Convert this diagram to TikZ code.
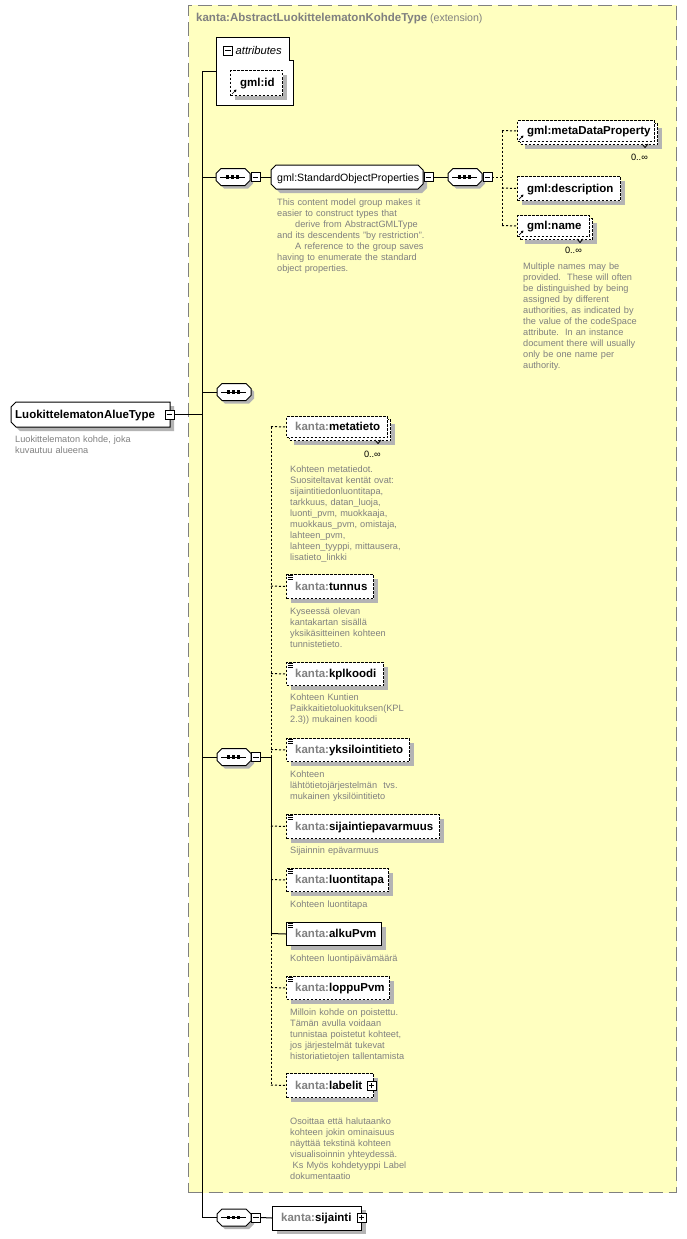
\documentclass[tikz,border=0pt]{standalone}
\usepackage{fontspec}
\setmainfont{Liberation Sans}
\usetikzlibrary{shadows,arrows.meta}
\definecolor{bgyellow}{HTML}{FFFFC0}
\definecolor{framegray}{HTML}{808080}
\definecolor{descgray}{HTML}{808080}
\definecolor{shadowgray}{HTML}{B4B4B4}
\newcommand{\nmfont}{\fontsize{11.5}{13}\selectfont\bfseries}
\newcommand{\rgfont}{\fontsize{10.6}{13}\selectfont}
\newcommand{\dsfont}{\fontsize{9.2}{11}\selectfont}
\newcommand{\kpfx}{\textcolor{descgray}{kanta:}}
\tikzset{
  conn/.style={draw=black, line width=1pt},
  dconn/.style={conn, dash pattern=on 2pt off 2pt},
  elbox/.style={draw=black, fill=white, line width=1pt, rectangle, inner sep=0pt, anchor=north west},
  optbox/.style={elbox, dash pattern=on 2.5pt off 1.5pt},
  shad/.style={drop shadow={shadow xshift=4pt, shadow yshift=-4pt, fill=shadowgray, opacity=1}},
  nmtext/.style={anchor=base west, inner sep=0pt, font=\nmfont, text=black},
  rgtext/.style={anchor=base west, inner sep=0pt, font=\rgfont, text=black},
  desc/.style={anchor=base west, inner sep=0pt, font=\dsfont, text=descgray, text width=220pt, align=left},
  mult/.style={anchor=base east, inner sep=0pt, font=\dsfont, text=black},
  pmbox/.style={draw=black, fill=white, line width=0.8pt, rectangle, inner sep=0pt, minimum size=9pt},
  refarrow/.style={line width=0.7pt, -{Triangle[length=2.4pt,width=2.6pt]}},
}
\newcommand{\octshape}[6]{\path[#1] ({#2+#6},{#3-#5/2}) -- ({#2+#4-#6},{#3-#5/2}) -- ({#2+#4},{#3-#5/2+#6}) -- ({#2+#4},{#3+#5/2-#6}) -- ({#2+#4-#6},{#3+#5/2}) -- ({#2+#6},{#3+#5/2}) -- ({#2},{#3+#5/2-#6}) -- ({#2},{#3-#5/2+#6}) -- cycle;}
\newcommand{\seqbox}[3]{%
  \octshape{fill=shadowgray}{#2+3}{#3+3}{34}{17}{5}
  \octshape{draw=black,fill=white,line width=1pt}{#2}{#3}{34}{17}{5}
  \draw[line width=1pt] ({#2+4},#3) -- ({#2+29},#3);
  \foreach \dx in {11.5,16.5,21.5} \fill ({#2+\dx-1.6},{#3-1.6}) rectangle ++(3.2,3.2);
  \node[inner sep=0pt, minimum width=34pt, minimum height=17pt, anchor=west] (#1) at (#2,#3) {};
}
\newcommand{\minusln}[1]{\draw[line width=0.8pt] ([xshift=2pt]#1.west) -- ([xshift=-2pt]#1.east);}
\newcommand{\plusln}[1]{\minusln{#1}\draw[line width=0.8pt] ([yshift=2pt]#1.south) -- ([yshift=-2pt]#1.north);}
\newcommand{\simpic}[1]{\foreach \dy in {1.5,3.5,5.5} \draw[line width=0.7pt] ([shift={(2,\dy)}]#1.north west) -- ([shift={(7,\dy)}]#1.north west);}
\newcommand{\refarr}[1]{\draw[refarrow] ([shift={(2,-2)}]#1.south west) -- ([shift={(6.5,-6.5)}]#1.south west);}
\newcommand{\notchv}[1]{\draw[line width=0.8pt] ([shift={(-16,-1)}]#1.south east) -- ([shift={(-13,2.5)}]#1.south east) -- ([shift={(-10,-1)}]#1.south east);}
\begin{document}
\begin{tikzpicture}[x=1pt,y=-1pt]
\useasboundingbox[fill=white] (0,0) rectangle (687,1239);
% extension frame
\node[draw=framegray, fill=bgyellow, line width=1pt, dash pattern=on 14pt off 6pt, anchor=north west, inner sep=0pt, minimum width=488pt, minimum height=1187pt] (ext) at (188,5) {};
\node[anchor=base west, inner sep=0pt, text=descgray] (exttitle) at (196,22) {{\nmfont kanta:AbstractLuokittelematonKohdeType} {\rgfont (extension)}};

% root element
\path[fill=shadowgray] (20,406) -- (174,406) -- (174,431) -- (20,431) -- (15,426) -- (15,411) -- cycle;
\path[draw=black, fill=white, line width=1pt] (16,402) -- (170,402) -- (170,427) -- (16,427) -- (11,422) -- (11,407) -- cycle;
\node[inner sep=0pt, minimum width=159pt, minimum height=25pt, anchor=north west] (root) at (11,402) {};
\node[nmtext] (rootT) at (15,418.5) {LuokittelematonAlueType};
\node[pmbox] (rootm) at (169.5,414.5) {};
\minusln{rootm}
\node[desc] (rootD) at (15,442.5) {Luokittelematon kohde, joka\\kuvautuu alueena};

% spine
\coordinate (sptop) at (202,72);
\coordinate (spbot) at (202,1217.5);
\coordinate (sproot) at (202,414.5);
\coordinate (attrL) at (216,72);
\draw[conn] (sptop) -- (spbot);
\draw[conn] (sptop) -- (attrL);
\draw[conn] (rootm.east) -- (sproot);

% attributes
\path[draw=black, fill=white, line width=1pt] (216,38) -- (289,38) -- (289,61) -- (293,61) -- (293,105) -- (216,105) -- cycle;
\node[pmbox] (attrm) at (228,50.5) {};
\minusln{attrm}
\node[anchor=base west, inner sep=0pt, font=\fontsize{11.2}{13}\selectfont\itshape] (attrT) at (235.5,54.5) {attributes};
\node[optbox, shad, minimum width=52pt, minimum height=25pt] (gmlid) at (230,70) {};
\node[nmtext] (gmlidT) at (240,86.5) {gml:id};
\refarr{gmlid}

% sequence 1 and group
\seqbox{seqa}{216}{177}
\node[pmbox] (seqam) at (255.5,177) {};
\minusln{seqam}
\coordinate (sps1) at (202,177);
\draw[conn] (sps1) -- (seqa.west);
\octshape{fill=shadowgray}{275}{181}{152}{24}{5}
\octshape{draw=black,fill=white,line width=1pt}{271}{177}{152}{24}{5}
\node[inner sep=0pt, minimum width=152pt, minimum height=24pt, anchor=west] (sop) at (271,177) {};
\node[rgtext] (sopT) at (277,181) {gml:StandardObjectProperties};
\node[pmbox] (sopm) at (428.5,177) {};
\minusln{sopm}
\draw[conn] (seqam.east) -- (sop.west);
\node[desc] (sopD) at (277,205.5) {This content model group makes it\\easier to construct types that\\\hspace*{18pt}derive from AbstractGMLType\\and its descendents "by restriction".\\\hspace*{18pt}A reference to the group saves\\having to enumerate the standard\\object properties.};

% sequence 2 and gml children
\seqbox{seqb}{448}{177}
\node[pmbox] (seqbm) at (487.5,177) {};
\minusln{seqbm}
\draw[conn] (sopm.east) -- (seqb.west);
\coordinate (bmid) at (502,177);
\coordinate (btop) at (502,130.5);
\coordinate (bdesc) at (502,188);
\coordinate (bbot) at (502,225.5);
\draw[dconn] (seqbm.east) -- (bmid);
\draw[dconn] (btop) -- (bbot);

\node[optbox, shad, minimum width=137pt, minimum height=21pt] (mdpB) at (520,123) {};
\node[optbox, minimum width=137pt, minimum height=21pt] (mdp) at (517,120) {};
\node[nmtext] (mdpT) at (527,134.5) {gml:metaDataProperty};
\refarr{mdp}
\notchv{mdpB}
\node[mult] (mdpM) at (648,160) {0..∞};
\draw[dconn] (btop) -- (mdp.west);

\node[optbox, shad, minimum width=103pt, minimum height=24pt] (gdesc) at (517,176) {};
\node[nmtext] (gdescT) at (527,192) {gml:description};
\refarr{gdesc}
\draw[dconn] (bdesc) -- (gdesc.west);

\node[optbox, shad, minimum width=72pt, minimum height=21pt] (gnameB) at (520,218) {};
\node[optbox, minimum width=72pt, minimum height=21pt] (gname) at (517,215) {};
\node[nmtext] (gnameT) at (527,229.5) {gml:name};
\refarr{gname}
\notchv{gnameB}
\node[mult] (gnameM) at (582,253.5) {0..∞};
\draw[dconn] (bbot) -- (gname.west);
\node[desc] (gnameD) at (523,269.5) {Multiple names may be\\provided.\ \ These will often\\be distinguished by being\\assigned by different\\authorities, as indicated by\\the value of the codeSpace\\attribute.\ \ In an instance\\document there will usually\\only be one name per\\authority.};

% sequence 3
\seqbox{seqc}{217}{392}
\coordinate (sps3) at (202,392);
\draw[conn] (sps3) -- (seqc.west);

% sequence 4
\seqbox{seqd}{217}{757}
\node[pmbox] (seqdm) at (256,757) {};
\minusln{seqdm}
\coordinate (sps4) at (202,757);
\draw[conn] (sps4) -- (seqd.west);
\coordinate (dtop) at (271,426.5);
\coordinate (dmid) at (271,757);
\coordinate (dalku) at (271,933.5);
\coordinate (dbot) at (271,1085);
\draw[dconn] (dtop) -- (dmid);
\draw[conn] (dmid) -- (dalku);
\draw[dconn] (dalku) -- (dbot);
\draw[conn] (seqdm.east) -- (dmid);

% metatieto
\node[optbox, shad, minimum width=101pt, minimum height=21pt] (metaB) at (289,419) {};
\node[optbox, minimum width=101pt, minimum height=21pt] (meta) at (286,416) {};
\node[nmtext] (metaT) at (295,430.5) {\kpfx metatieto};
\notchv{metaB}
\node[mult] (metaM) at (381,457) {0..∞};
\draw[dconn] (dtop) -- (meta.west);
\node[desc] (metaD) at (290,472.5) {Kohteen metatiedot.\\Suositeltavat kentät ovat:\\sijaintitiedonluontitapa,\\tarkkuus, datan\_luoja,\\luonti\_pvm, muokkaaja,\\muokkaus\_pvm, omistaja,\\lahteen\_pvm,\\lahteen\_tyyppi, mittausera,\\lisatieto\_linkki};

% tunnus
\node[optbox, shad, minimum width=87pt, minimum height=24pt] (tunnus) at (286,574) {};
\node[nmtext] (tunnusT) at (295,590) {\kpfx tunnus};
\simpic{tunnus}
\coordinate (dtun) at (271,586);
\draw[dconn] (dtun) -- (tunnus.west);
\node[desc] (tunnusD) at (290,614.5) {Kyseessä olevan\\kantakartan sisällä\\yksikäsitteinen kohteen\\tunnistetieto.};

% kplkoodi
\node[optbox, shad, minimum width=97pt, minimum height=23pt] (kpl) at (286,662) {};
\node[nmtext] (kplT) at (295,677.5) {\kpfx kplkoodi};
\simpic{kpl}
\coordinate (dkpl) at (271,673.5);
\draw[dconn] (dkpl) -- (kpl.west);
\node[desc] (kplD) at (290,700.5) {Kohteen Kuntien\\Paikkaitietoluokituksen(KPL\\2.3)) mukainen koodi};

% yksilointitieto
\node[optbox, shad, minimum width=123pt, minimum height=23pt] (yks) at (286,738) {};
\node[nmtext] (yksT) at (295,753.5) {\kpfx yksilointitieto};
\simpic{yks}
\coordinate (dyks) at (271,749.5);
\draw[dconn] (dyks) -- (yks.west);
\node[desc] (yksD) at (290,777.5) {Kohteen\\lähtötietojärjestelmän\ \ tvs.\\mukainen yksilöintitieto};

% sijaintiepavarmuus
\node[optbox, shad, minimum width=153pt, minimum height=24pt] (sep) at (286,814) {};
\node[nmtext] (sepT) at (295,830) {\kpfx sijaintiepavarmuus};
\simpic{sep}
\coordinate (dsep) at (271,826);
\draw[dconn] (dsep) -- (sep.west);
\node[desc] (sepD) at (290,853.5) {Sijainnin epävarmuus};

% luontitapa
\node[optbox, shad, minimum width=102pt, minimum height=23pt] (lt) at (286,868) {};
\node[nmtext] (ltT) at (295,883.5) {\kpfx luontitapa};
\simpic{lt}
\coordinate (dlt) at (271,879.5);
\draw[dconn] (dlt) -- (lt.west);
\node[desc] (ltD) at (290,907.5) {Kohteen luontitapa};

% alkuPvm
\node[elbox, shad, minimum width=95pt, minimum height=23pt] (alku) at (286,922) {};
\node[nmtext] (alkuT) at (295,937.5) {\kpfx alkuPvm};
\simpic{alku}
\draw[conn] (dalku) -- (alku.west);
\node[desc] (alkuD) at (290,961.5) {Kohteen luontipäivämäärä};

% loppuPvm
\node[optbox, shad, minimum width=103pt, minimum height=23pt] (loppu) at (286,976) {};
\node[nmtext] (loppuT) at (295,991.5) {\kpfx loppuPvm};
\simpic{loppu}
\coordinate (dlop) at (271,987.5);
\draw[dconn] (dlop) -- (loppu.west);
\node[desc] (loppuD) at (290,1015.5) {Milloin kohde on poistettu.\\Tämän avulla voidaan\\tunnistaa poistetut kohteet,\\jos järjestelmät tukevat\\historiatietojen tallentamista};

% labelit
\node[optbox, shad, minimum width=87pt, minimum height=24pt] (lab) at (286,1073) {};
\node[nmtext] (labT) at (295,1089) {\kpfx labelit};
\node[pmbox] (labp) at (371.5,1085.5) {};
\plusln{labp}
\draw[dconn] (dbot) -- (lab.west);
\node[desc] (labD) at (290,1124.5) {Osoittaa että halutaanko\\kohteen jokin ominaisuus\\näyttää tekstinä kohteen\\visualisoinnin yhteydessä.\\\hspace*{2.5pt}Ks Myös kohdetyyppi Label\\dokumentaatio};

% sequence 5 and sijainti
\seqbox{seqe}{217}{1217.5}
\node[pmbox] (seqem) at (256,1217.5) {};
\minusln{seqem}
\draw[conn] (spbot) -- (seqe.west);
\node[elbox, shad, minimum width=89pt, minimum height=24pt] (sij) at (272,1205.5) {};
\node[nmtext] (sijT) at (281,1221.5) {\kpfx sijainti};
\node[pmbox] (sijp) at (361.5,1217.5) {};
\plusln{sijp}
\draw[conn] (seqem.east) -- (sij.west);
\end{tikzpicture}
\end{document}
